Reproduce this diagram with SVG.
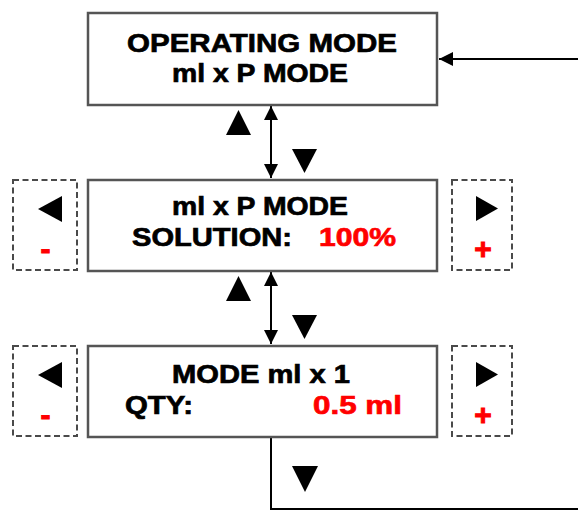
<svg xmlns="http://www.w3.org/2000/svg" width="578" height="511" viewBox="0 0 578 511">
  <style>
    .box { fill: #ffffff; stroke: #555555; stroke-width: 2.5; }
    .dash { fill: none; stroke: #4a4a4a; stroke-width: 2; stroke-dasharray: 6 3.5; }
    .t { font-family: "Liberation Sans", Arial, sans-serif; font-weight: bold; font-size: 26px; fill: #000; stroke: #000; stroke-width: 0.7; }
    .red { fill: #ff0000; stroke: #ff0000; }
    .sign { font-size: 30px; stroke-width: 1; }
    .conn { stroke: #000; stroke-width: 2; fill: none; }
    .tri { fill: #000; }
  </style>
  <defs>
    <marker id="ah" viewBox="0 0 14 14" markerWidth="14" markerHeight="14" refX="14" refY="7" orient="auto-start-reverse" markerUnits="userSpaceOnUse">
      <path d="M0,0 L14,7 L0,14 z" fill="#000"/>
    </marker>
  </defs>
  <rect width="578" height="511" fill="#ffffff"/>

  <g id="connectors">
    <line class="conn" x1="578" y1="59" x2="439" y2="59" marker-end="url(#ah)"/>
    <line class="conn" x1="271" y1="106" x2="271" y2="178" marker-start="url(#ah)" marker-end="url(#ah)"/>
    <line class="conn" x1="271" y1="272" x2="271" y2="344" marker-start="url(#ah)" marker-end="url(#ah)"/>
    <polyline class="conn" points="271,437 271,509 578,509"/>
    <polygon class="tri" points="226,135 251,135 238.5,110"/>
    <polygon class="tri" points="292,149 317,149 304.5,173"/>
    <polygon class="tri" points="226,301 251,301 238.5,276"/>
    <polygon class="tri" points="292,315 317,315 304.5,339"/>
    <polygon class="tri" points="292,466 318,466 305,492"/>
  </g>

  <g id="node-operating-mode">
    <rect class="box" x="88" y="13" width="349" height="92"/>
    <text class="t" x="127" y="52" textLength="270" lengthAdjust="spacingAndGlyphs">OPERATING MODE</text>
    <text class="t" x="172" y="82" textLength="176" lengthAdjust="spacingAndGlyphs">ml x P MODE</text>
  </g>

  <g id="node-solution">
    <rect class="box" x="88" y="180" width="349" height="91"/>
    <text class="t" x="172" y="215" textLength="176" lengthAdjust="spacingAndGlyphs">ml x P MODE</text>
    <text class="t" x="132" y="246" textLength="160" lengthAdjust="spacingAndGlyphs">SOLUTION:</text>
    <text class="t red" x="319" y="246" textLength="77" lengthAdjust="spacingAndGlyphs">100%</text>
  </g>

  <g id="node-solution-minus">
    <rect class="dash" x="13" y="180" width="64" height="90"/>
    <polygon class="tri" points="62,196 62,222 38,209"/>
    <text class="t red sign" x="45.5" y="259" text-anchor="middle">-</text>
  </g>

  <g id="node-solution-plus">
    <rect class="dash" x="452" y="180" width="60" height="90"/>
    <polygon class="tri" points="476,196 476,221 498,208.5"/>
    <text class="t red sign" x="483" y="259" text-anchor="middle">+</text>
  </g>

  <g id="node-qty">
    <rect class="box" x="88" y="346" width="349" height="91"/>
    <text class="t" x="172" y="383" textLength="178" lengthAdjust="spacingAndGlyphs">MODE ml x 1</text>
    <text class="t" x="125" y="414" textLength="68" lengthAdjust="spacingAndGlyphs">QTY:</text>
    <text class="t red" x="313" y="414" textLength="89" lengthAdjust="spacingAndGlyphs">0.5 ml</text>
  </g>

  <g id="node-qty-minus">
    <rect class="dash" x="13" y="346" width="64" height="90"/>
    <polygon class="tri" points="62,362 62,388 38,375"/>
    <text class="t red sign" x="45.5" y="425" text-anchor="middle">-</text>
  </g>

  <g id="node-qty-plus">
    <rect class="dash" x="452" y="346" width="60" height="90"/>
    <polygon class="tri" points="476,362 476,387 498,374.5"/>
    <text class="t red sign" x="483" y="425" text-anchor="middle">+</text>
  </g>
</svg>
